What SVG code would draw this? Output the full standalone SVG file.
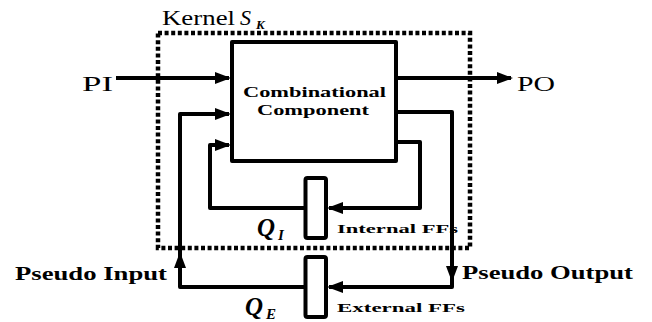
<svg xmlns="http://www.w3.org/2000/svg" width="652" height="322" viewBox="0 0 652 322">
<defs>
<style>
.ln{fill:none;stroke:#000;stroke-width:4;stroke-linejoin:round}
.box{fill:#fff;stroke:#000;stroke-width:4;stroke-linejoin:round}
.dot{fill:none;stroke:#000;stroke-width:4.5;stroke-dasharray:4 2.6}
text{fill:#000}
</style>
<marker id="arr" markerUnits="userSpaceOnUse" markerWidth="16" markerHeight="13" viewBox="0 0 16 13" refX="14" refY="6.5" orient="auto">
<path d="M0,0.5 L16,6.5 L0,12.5 z" fill="#000"/>
</marker>
</defs>
<rect width="652" height="322" fill="#fff"/>
<g id="kernel" font-family="'Liberation Serif','DejaVu Serif',serif">
<rect class="dot" x="158" y="33" width="312" height="215"/>
<text x="162" y="25" font-size="20" textLength="73" lengthAdjust="spacingAndGlyphs">Kernel</text>
<text x="240" y="25" font-size="22" font-style="italic">S</text>
<text x="256" y="29" font-size="13" font-style="italic" font-weight="bold">K</text>
</g>
<g id="connectors">
<path class="ln" d="M116,78 H229" marker-end="url(#arr)"/>
<path class="ln" d="M396,78 H511" marker-end="url(#arr)"/>
<path class="ln" d="M396,112 H452 V280" marker-end="url(#arr)"/>
<path class="ln" d="M452,278 V287 H329" marker-end="url(#arr)"/>
<path class="ln" d="M305,287 H180 V254" marker-end="url(#arr)"/>
<path class="ln" d="M180,264 V114 H229" marker-end="url(#arr)"/>
<path class="ln" d="M396,142 H420 V208 H329" marker-end="url(#arr)"/>
<path class="ln" d="M305,208 H210 V145 H229" marker-end="url(#arr)"/>
</g>
<g id="comb" font-family="'Liberation Serif','DejaVu Serif',serif" font-weight="bold">
<rect class="box" x="232" y="42" width="164" height="119"/>
<text x="243" y="97" font-size="15" textLength="143" lengthAdjust="spacingAndGlyphs">Combinational</text>
<text x="257" y="115" font-size="15" textLength="112" lengthAdjust="spacingAndGlyphs">Component</text>
</g>
<g id="qi" font-family="'Liberation Serif','DejaVu Serif',serif" font-weight="bold">
<rect class="box" x="305.5" y="178" width="20.5" height="60" rx="2"/>
<text x="257" y="236" font-size="25" font-style="italic">Q</text>
<text x="278" y="240" font-size="15" font-style="italic">I</text>
<text x="337" y="233" font-size="13" textLength="121" lengthAdjust="spacingAndGlyphs">Internal FFs</text>
</g>
<g id="qe" font-family="'Liberation Serif','DejaVu Serif',serif" font-weight="bold">
<rect class="box" x="305.5" y="257" width="20.5" height="60" rx="2"/>
<text x="245" y="315" font-size="25" font-style="italic">Q</text>
<text x="266" y="319" font-size="15" font-style="italic">E</text>
<text x="337" y="312" font-size="13" textLength="128" lengthAdjust="spacingAndGlyphs">External FFs</text>
</g>
<g id="pi" font-family="'Liberation Serif','DejaVu Serif',serif">
<text x="82" y="91" font-size="22" textLength="31" lengthAdjust="spacingAndGlyphs">PI</text>
</g>
<g id="po" font-family="'Liberation Serif','DejaVu Serif',serif">
<text x="517" y="91" font-size="22" textLength="38" lengthAdjust="spacingAndGlyphs">PO</text>
</g>
<g id="pseudo-input" font-family="'Liberation Serif','DejaVu Serif',serif" font-weight="bold">
<text x="15" y="280" font-size="19" textLength="152" lengthAdjust="spacingAndGlyphs">Pseudo Input</text>
</g>
<g id="pseudo-output" font-family="'Liberation Serif','DejaVu Serif',serif" font-weight="bold">
<text x="462" y="279" font-size="19" textLength="171" lengthAdjust="spacingAndGlyphs">Pseudo Output</text>
</g>
</svg>
